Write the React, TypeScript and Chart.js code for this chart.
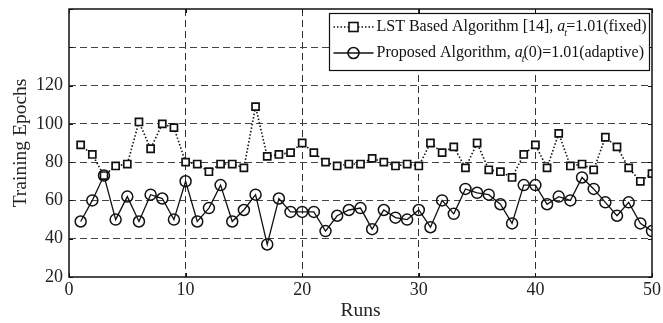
import { useEffect, useRef } from 'react';
import { Chart, registerables } from 'chart.js';

Chart.register(...registerables);

// Run index on the x axis
const runs = [
  1, 2, 3, 4, 5, 6, 7, 8, 9, 10,
  11, 12, 13, 14, 15, 16, 17, 18, 19, 20,
  21, 22, 23, 24, 25, 26, 27, 28, 29, 30,
  31, 32, 33, 34, 35, 36, 37, 38, 39, 40,
  41, 42, 43, 44, 45, 46, 47, 48, 49, 50,
];

// Training epochs, LST based algorithm [14] with fixed a_t
const lstEpochs = [
  89, 84, 73, 78, 79, 101, 87, 100, 98, 80,
  79, 75, 79, 79, 77, 109, 83, 84, 85, 90,
  85, 80, 78, 79, 79, 82, 80, 78, 79, 78,
  90, 85, 88, 77, 90, 76, 75, 72, 84, 89,
  77, 95, 78, 79, 76, 93, 88, 77, 70, 74,
];

// Training epochs, proposed algorithm with adaptive a_t
const proposedEpochs = [
  49, 60, 73, 50, 62, 49, 63, 61, 50, 70,
  49, 56, 68, 49, 55, 63, 37, 61, 54, 54,
  54, 44, 52, 55, 56, 45, 55, 51, 50, 55,
  46, 60, 53, 66, 64, 63, 58, 48, 68, 68,
  58, 62, 60, 72, 66, 59, 52, 59, 48, 44,
];

const xTicks = [0, 10, 20, 30, 40, 50];
const yTicks = [20, 40, 60, 80, 100, 120, 140, 160];
const yLabelMax = 120;

const SERIF = '"Liberation Serif", "Times New Roman", serif';

type Seg = { t: string; italic?: boolean; sub?: boolean };

const legendRows: { segs: Seg[]; dotted: boolean; marker: 'square' | 'circle' }[] = [
  {
    segs: [
      { t: 'LST Based Algorithm [14], ' },
      { t: 'a', italic: true },
      { t: 't', italic: true, sub: true },
      { t: '=1.01(fixed)' },
    ],
    dotted: true,
    marker: 'square',
  },
  {
    segs: [
      { t: 'Proposed Algorithm, ' },
      { t: 'a', italic: true },
      { t: 't', italic: true, sub: true },
      { t: '(0)=1.01(adaptive)' },
    ],
    dotted: false,
    marker: 'circle',
  },
];

const framePlugin = {
  id: 'frameAndLegend',
  afterDraw(chart: any) {
    const { ctx, chartArea: a, scales } = chart;
    ctx.save();
    // inward tick marks on all four sides
    ctx.strokeStyle = '#111';
    ctx.lineWidth = 1;
    ctx.setLineDash([]);
    const tl = 4;
    for (const v of xTicks) {
      const px = Math.round(scales.x.getPixelForValue(v)) + 0.5;
      ctx.beginPath();
      ctx.moveTo(px, a.bottom);
      ctx.lineTo(px, a.bottom - tl);
      ctx.moveTo(px, a.top);
      ctx.lineTo(px, a.top + tl);
      ctx.stroke();
    }
    for (const v of yTicks) {
      const py = Math.round(scales.y.getPixelForValue(v)) + 0.5;
      ctx.beginPath();
      ctx.moveTo(a.left, py);
      ctx.lineTo(a.left + tl, py);
      ctx.moveTo(a.right, py);
      ctx.lineTo(a.right - tl, py);
      ctx.stroke();
    }
    // plot frame
    ctx.lineWidth = 1.5;
    ctx.strokeStyle = '#111';
    ctx.strokeRect(a.left, a.top, a.right - a.left, a.bottom - a.top);

    // legend box
    const bx = 329.5, by = 13.5, bw = 320, bh = 57;
    ctx.fillStyle = '#fff';
    ctx.fillRect(bx, by, bw, bh);
    ctx.lineWidth = 1.2;
    ctx.strokeRect(bx, by, bw, bh);

    const rowY = [27, 53];
    legendRows.forEach((row, i) => {
      const y = rowY[i];
      const x0 = bx + 4, x1 = bx + 44, mx = (x0 + x1) / 2;
      ctx.strokeStyle = '#111';
      ctx.lineWidth = row.dotted ? 1.6 : 1.3;
      ctx.setLineDash(row.dotted ? [1.5, 2] : []);
      ctx.beginPath();
      ctx.moveTo(x0, y);
      ctx.lineTo(x1, y);
      ctx.stroke();
      ctx.setLineDash([]);
      ctx.lineWidth = 1.6;
      if (row.marker === 'square') {
        ctx.fillStyle = '#fff';
        ctx.fillRect(mx - 4.5, y - 4.5, 9, 9);
        ctx.strokeRect(mx - 4.5, y - 4.5, 9, 9);
      } else {
        ctx.beginPath();
        ctx.arc(mx, y, 5.5, 0, Math.PI * 2);
        ctx.stroke();
      }
      let tx = x1 + 3;
      ctx.fillStyle = '#111';
      ctx.textBaseline = 'middle';
      ctx.textAlign = 'left';
      for (const s of row.segs) {
        const size = s.sub ? 10 : 16;
        ctx.font = `${s.italic ? 'italic ' : ''}${size}px ${SERIF}`;
        if (s.sub) {
          ctx.fillText(s.t, tx - 1, y + 6);
          tx += ctx.measureText(s.t).width - 2;
        } else {
          ctx.fillText(s.t, tx, y);
          tx += ctx.measureText(s.t).width;
        }
      }
    });
    ctx.restore();
  },
};

export default function App() {
  const ref = useRef<HTMLCanvasElement | null>(null);

  useEffect(() => {
    if (!ref.current) return;
    const edgeX = (v: number) => v === xTicks[0] || v === xTicks[xTicks.length - 1];
    const edgeY = (v: number) => v === yTicks[0] || v === yTicks[yTicks.length - 1];
    const chart = new Chart(ref.current, {
      type: 'line',
      data: {
        datasets: [
          {
            label: 'LST Based Algorithm [14]',
            data: runs.map((r, i) => ({ x: r, y: lstEpochs[i] })),
            borderColor: '#111',
            borderWidth: 1.6,
            borderDash: [1.5, 2],
            pointStyle: 'rect',
            pointRadius: 5,
            pointBorderWidth: 1.7,
            pointBackgroundColor: '#fff',
            pointBorderColor: '#111',
            tension: 0,
          },
          {
            label: 'Proposed Algorithm',
            data: runs.map((r, i) => ({ x: r, y: proposedEpochs[i] })),
            borderColor: '#111',
            borderWidth: 1.3,
            pointStyle: 'circle',
            pointRadius: 5.5,
            pointBorderWidth: 1.5,
            pointBackgroundColor: 'rgba(0,0,0,0)',
            pointBorderColor: '#111',
            tension: 0,
          },
        ],
      },
      options: {
        animation: false,
        responsive: false,
        maintainAspectRatio: false,
        layout: { padding: { left: 0, top: 0, right: 10, bottom: 0 } },
        plugins: { legend: { display: false }, tooltip: { enabled: false } },
        scales: {
          x: {
            type: 'linear',
            min: 0,
            max: 50,
            afterBuildTicks: (s: any) => {
              s.ticks = xTicks.map((v) => ({ value: v }));
            },
            afterFit: (s: any) => {
              s.height = 46;
            },
            ticks: {
              font: { family: SERIF, size: 18 },
              color: '#222',
              padding: 2,
              maxRotation: 0,
            },
            grid: {
              color: (c: any) => (edgeX(c.tick?.value) ? 'rgba(0,0,0,0)' : '#333'),
              lineWidth: 1,
              drawTicks: false,
            },
            border: { display: false, dash: [7, 4] },
            title: {
              display: true,
              text: 'Runs',
              font: { family: SERIF, size: 19.5 },
              color: '#222',
              padding: { top: 0, bottom: 0 },
            },
          },
          y: {
            min: 20,
            max: 160,
            afterBuildTicks: (s: any) => {
              s.ticks = yTicks.map((v) => ({ value: v }));
            },
            afterFit: (s: any) => {
              s.width = 69;
              s.paddingTop = 9;
            },
            ticks: {
              font: { family: SERIF, size: 18 },
              color: '#222',
              padding: 6,
              callback: (v: any) => (Number(v) > yLabelMax ? '' : String(v)),
            },
            grid: {
              color: (c: any) => (edgeY(c.tick?.value) ? 'rgba(0,0,0,0)' : '#444'),
              lineWidth: 1,
              drawTicks: false,
            },
            border: { display: false, dash: [7, 4] },
            title: {
              display: true,
              text: 'Training Epochs',
              font: { family: SERIF, size: 19.5 },
              color: '#222',
              padding: { top: 9, bottom: 0 },
            },
          },
        },
      },
      plugins: [framePlugin],
    });
    return () => chart.destroy();
  }, []);

  return (
    <div style={{ position: 'absolute', left: 0, top: 0, width: 663, height: 323, background: '#fff' }}>
      <canvas ref={ref} width={663} height={323} style={{ display: 'block' }} />
    </div>
  );
}
